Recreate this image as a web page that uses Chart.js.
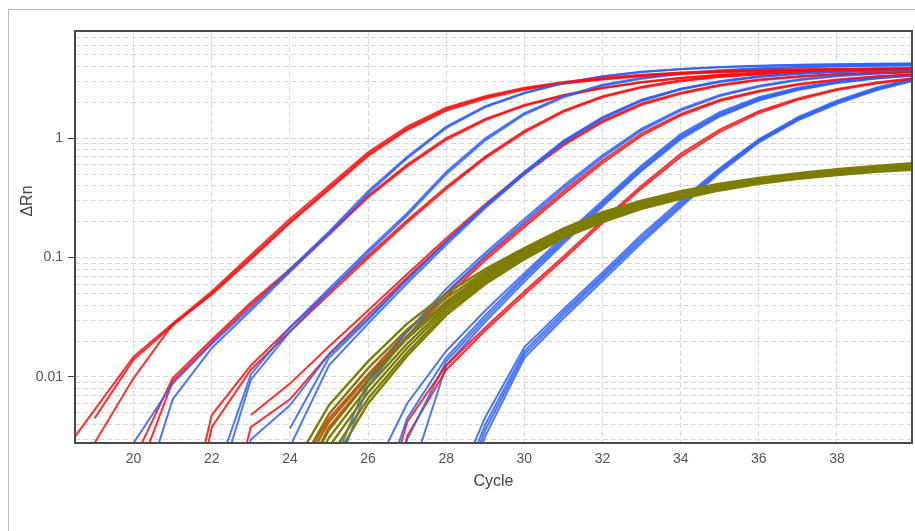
<!DOCTYPE html>
<html>
<head>
<meta charset="utf-8">
<script src="https://cdn.jsdelivr.net/npm/chart.js@4.4.1/dist/chart.umd.min.js"></script>
<style>
html,body{margin:0;padding:0;background:#fff;overflow:hidden}
.card{position:absolute;left:8px;top:9px;width:1000px;height:600px;border:1px solid #bdbdbd}
#wrap{position:absolute;left:0;top:0;width:915px;height:531px}
</style>
</head>
<body>
<div class="card"></div>
<div id="wrap"><canvas id="amp"></canvas></div>
<script>
// amplification plot - delta Rn vs cycle, log scale
const cycles = [18,19,20,21,22,23,24,25,26,27,28,29,30,31,32,33,34,35,36,37,38,39,40];
const xTicks = [20,22,24,26,28,30,32,34,36,38];
const yTicks = [0.003,0.004,0.005,0.006,0.007,0.008,0.009,0.01,0.02,0.03,0.04,0.05,0.06,0.07,0.08,0.09,0.1,0.2,0.3,0.4,0.5,0.6,0.7,0.8,0.9,1,2,3,4,5,6,7];
const yLabels = [0.01,0.1,1];

// red wells
const redA1 = [0.0019,0.0053,0.0148,0.028,0.052,0.105,0.21,0.40,0.76,1.25,1.8,2.25,2.65,2.95,3.2,3.4,3.55,3.65,3.72,3.78,3.82,3.85,3.87];
const redA2 = [null,0.0045,0.0140,0.027,0.050,0.100,0.20,0.38,0.73,1.2,1.75,2.2,2.6,2.9,3.15,3.35,3.5,3.6,3.68,3.74,3.78,3.81,3.83];
const redA3 = [0.0008,0.0028,0.0098,0.0275,0.049,0.097,0.195,0.37,0.71,1.17,1.7,2.15,2.55,2.85,3.1,3.3,3.45,3.56,3.64,3.7,3.75,3.78,3.8];
const redB1 = [null,0.0004,0.002,0.0098,0.0205,0.042,0.08,0.16,0.33,0.6,1.0,1.45,1.9,2.3,2.65,2.95,3.2,3.4,3.55,3.65,3.72,3.78,3.82];
const redB2 = [null,0.0003,0.00126,0.0092,0.0195,0.040,0.077,0.155,0.32,0.58,0.97,1.42,1.87,2.27,2.62,2.92,3.17,3.37,3.52,3.62,3.7,3.76,3.8];
const redC1 = [null,null,null,0.0002,0.0048,0.0125,0.026,0.052,0.104,0.205,0.39,0.7,1.15,1.7,2.25,2.7,3.05,3.3,3.47,3.58,3.66,3.71,3.75];
const redC2 = [null,null,null,0.0001,0.0038,0.0115,0.024,0.049,0.099,0.197,0.375,0.68,1.12,1.66,2.2,2.65,3.0,3.25,3.42,3.54,3.62,3.68,3.72];
const redD1 = [null,null,null,null,null,0.0048,0.0088,0.018,0.036,0.073,0.145,0.28,0.52,0.9,1.4,1.95,2.4,2.8,3.1,3.3,3.45,3.55,3.6];
const redD2 = [null,null,null,null,0.0002,0.0038,0.0065,0.0155,0.033,0.068,0.138,0.27,0.5,0.87,1.36,1.9,2.35,2.75,3.05,3.26,3.41,3.51,3.57];
const redE1 = [null,null,null,null,null,null,0.0013,0.0045,0.0105,0.024,0.05,0.1,0.19,0.36,0.65,1.1,1.6,2.1,2.5,2.85,3.1,3.3,3.45];
const redE2 = [null,null,null,null,null,null,0.0009,0.0038,0.0095,0.022,0.047,0.095,0.18,0.34,0.62,1.05,1.55,2.05,2.45,2.8,3.05,3.25,3.4];
const redF1 = [null,null,null,null,null,null,null,null,0.0003,0.0042,0.0125,0.026,0.052,0.102,0.205,0.4,0.74,1.18,1.68,2.15,2.58,2.92,3.2];
const redF2 = [null,null,null,null,null,null,null,null,0.0001,0.0032,0.0115,0.0245,0.049,0.097,0.195,0.38,0.7,1.13,1.62,2.1,2.53,2.87,3.15];

// blue wells
const blueB1 = [null,0.0003,0.0028,0.0088,0.019,0.038,0.08,0.165,0.36,0.7,1.25,1.85,2.4,2.9,3.3,3.6,3.8,3.95,4.05,4.12,4.17,4.2,4.22];
const blueB2 = [null,null,0.0006,0.0065,0.0175,0.036,0.076,0.158,0.345,0.68,1.22,1.82,2.38,2.88,3.28,3.58,3.78,3.93,4.03,4.1,4.15,4.18,4.2];
const blueC1 = [null,null,null,null,0.0012,0.0105,0.026,0.055,0.115,0.235,0.52,1.0,1.62,2.25,2.8,3.2,3.5,3.7,3.85,3.95,4.02,4.07,4.1];
const blueC2 = [null,null,null,null,0.0008,0.0095,0.024,0.052,0.11,0.225,0.5,0.96,1.58,2.2,2.75,3.15,3.45,3.66,3.81,3.92,3.99,4.04,4.07];
const blueD1 = [null,null,null,null,null,null,0.0037,0.0145,0.03,0.065,0.135,0.27,0.52,0.95,1.5,2.1,2.6,3.0,3.3,3.5,3.62,3.7,3.75];
const blueD2 = [null,null,null,null,null,0.0001,0.0026,0.0125,0.028,0.061,0.128,0.26,0.5,0.92,1.46,2.05,2.55,2.95,3.25,3.45,3.58,3.66,3.72];
const blueD3 = [null,null,null,null,0.0001,0.003,0.0058,0.0155,0.031,0.066,0.136,0.272,0.52,0.94,1.48,2.08,2.58,2.98,3.28,3.48,3.6,3.68,3.74];
const blueE1 = [null,null,null,null,null,null,null,0.0015,0.0095,0.024,0.055,0.11,0.21,0.4,0.72,1.2,1.75,2.3,2.75,3.1,3.35,3.5,3.6];
const blueE2 = [null,null,null,null,null,null,null,0.0011,0.0085,0.022,0.051,0.104,0.2,0.38,0.69,1.16,1.7,2.25,2.7,3.05,3.3,3.46,3.57];
const blueF1 = [null,null,null,null,null,null,null,null,0.0013,0.006,0.0165,0.036,0.074,0.15,0.3,0.59,1.08,1.65,2.2,2.65,3.0,3.25,3.42];
const blueF2 = [null,null,null,null,null,null,null,null,0.0005,0.0045,0.0145,0.033,0.07,0.143,0.288,0.57,1.04,1.6,2.15,2.6,2.96,3.21,3.39];
const blueF3 = [null,null,null,null,null,null,null,null,0.0002,0.003,0.0135,0.031,0.067,0.137,0.278,0.55,1.01,1.56,2.11,2.57,2.93,3.18,3.37];
const blueF4 = [null,null,null,null,null,null,null,null,null,0.0012,0.0125,0.029,0.063,0.131,0.268,0.535,0.98,1.52,2.07,2.53,2.9,3.16,3.35];
const blueG1 = [null,null,null,null,null,null,null,null,null,null,0.0008,0.0046,0.0178,0.037,0.075,0.155,0.3,0.56,0.98,1.5,2.06,2.65,3.2];
const blueG2 = [null,null,null,null,null,null,null,null,null,null,0.0006,0.0040,0.0165,0.035,0.071,0.147,0.288,0.545,0.96,1.47,2.02,2.6,3.15];
const blueG3 = [null,null,null,null,null,null,null,null,null,null,0.0005,0.0036,0.0155,0.033,0.068,0.14,0.276,0.53,0.94,1.44,1.98,2.56,3.1];
const blueG4 = [null,null,null,null,null,null,null,null,null,null,0.0004,0.0032,0.0145,0.031,0.064,0.133,0.264,0.515,0.92,1.41,1.94,2.52,3.05];

// olive wells (low plateau)
const oliveO1 = [null,null,null,null,null,null,0.0016,0.0058,0.0135,0.028,0.05,0.08,0.12,0.175,0.24,0.3,0.36,0.415,0.465,0.51,0.55,0.585,0.62];
const oliveO2 = [null,null,null,null,null,null,0.0013,0.0049,0.0118,0.025,0.046,0.076,0.116,0.17,0.232,0.292,0.352,0.407,0.457,0.502,0.542,0.577,0.61];
const oliveO3 = [null,null,null,null,null,null,0.0011,0.0042,0.0102,0.022,0.043,0.073,0.113,0.166,0.226,0.286,0.345,0.4,0.45,0.495,0.534,0.568,0.6];
const oliveO4 = [null,null,null,null,null,null,0.0009,0.0036,0.0092,0.021,0.041,0.07,0.11,0.162,0.22,0.28,0.338,0.393,0.443,0.488,0.526,0.56,0.59];
const oliveO5 = [null,null,null,null,null,null,0.0008,0.0031,0.0083,0.019,0.039,0.068,0.107,0.158,0.214,0.274,0.331,0.386,0.436,0.48,0.518,0.551,0.58];
const oliveO6 = [null,null,null,null,null,null,0.0006,0.0026,0.0074,0.0175,0.037,0.065,0.104,0.154,0.208,0.268,0.324,0.379,0.429,0.472,0.51,0.542,0.568];
const oliveO7 = [null,null,null,null,null,null,0.0005,0.0021,0.0066,0.016,0.035,0.062,0.1,0.15,0.203,0.262,0.317,0.372,0.422,0.464,0.5,0.532,0.557];
const oliveO8 = [null,null,null,null,null,null,0.0004,0.0017,0.006,0.015,0.033,0.06,0.097,0.146,0.198,0.256,0.31,0.365,0.415,0.456,0.492,0.522,0.545];

const redCurves = [redA1,redA2,redA3,redB1,redB2,redC1,redC2,redD1,redD2,redE1,redE2,redF1,redF2];
const blueCurves = [blueB1,blueB2,blueC1,blueC2,blueD1,blueD2,blueD3,blueE1,blueE2,blueF1,blueF2,blueF3,blueF4,blueG1,blueG2,blueG3,blueG4];
const oliveCurves = [oliveO1,oliveO2,oliveO3,oliveO4,oliveO5,oliveO6,oliveO7,oliveO8];

const RED = 'rgba(255,10,10,0.85)';
const BLUE = 'rgba(45,95,255,0.85)';
const OLIVE = '#7d7d00';
const FONT = '"Liberation Sans", Arial, sans-serif';

function toPoints(vals){
  return vals.map((v,i)=>({x:cycles[i], y:v}));
}
function line(vals, color, w){
  return {data:toPoints(vals), borderColor:color, borderWidth:w, pointRadius:0, tension:0, spanGaps:false, fill:false};
}

// first dataset is drawn on top, so olive goes first
const datasets = [];
oliveCurves.forEach(c=>datasets.push(line(c, OLIVE, 2.4)));
const n = Math.max(redCurves.length, blueCurves.length);
for(let i=0;i<n;i++){
  if(redCurves[i]) datasets.push(line(redCurves[i], RED, 2));
  if(blueCurves[i]) datasets.push(line(blueCurves[i], BLUE, 2));
}

const frame = {
  id:'frame',
  afterDatasetsDraw(chart){
    const {ctx, chartArea:a} = chart;
    ctx.save();
    ctx.strokeStyle = '#4a4a4a';
    ctx.lineWidth = 2;
    ctx.strokeRect(a.left, a.top, a.right-a.left, a.bottom-a.top);
    ctx.restore();
  },
  afterDraw(chart){
    const ctx = chart.ctx;
    ctx.save();
    ctx.translate(28, 201);
    ctx.rotate(-Math.PI/2);
    ctx.font = '16px ' + FONT;
    ctx.fillStyle = '#444';
    ctx.textAlign = 'center';
    ctx.textBaseline = 'middle';
    ctx.fillText('ΔRn', 0, 0);
    ctx.restore();
  }
};

new Chart(document.getElementById('amp'), {
  type:'line',
  data:{datasets},
  options:{
    responsive:true,
    maintainAspectRatio:false,
    animation:false,
    events:[],
    layout:{padding:{top:31, right:3, left:0, bottom:0}},
    plugins:{legend:{display:false}, tooltip:{enabled:false}},
    scales:{
      x:{
        type:'linear', min:18.5, max:39.92,
        afterBuildTicks: s => { s.ticks = xTicks.map(v=>({value:v})); },
        afterFit: s => { s.height = 88; },
        grid:{color:'#d6d6d6', drawTicks:false, borderDash:[5,3]},
        border:{display:false, dash:[5,3]},
        ticks:{color:'#555', font:{size:14, family:FONT}, padding:8, maxRotation:0, autoSkip:false},
        title:{display:true, text:'Cycle', color:'#444', font:{size:16, family:FONT}, padding:{top:0, bottom:40}}
      },
      y:{
        type:'logarithmic', min:0.0028, max:7.9,
        afterBuildTicks: s => { s.ticks = yTicks.map(v=>({value:v})); },
        afterFit: s => { s.width = 75; },
        grid:{
          color:'#d6d6d6', borderDash:[5,3], tickLength:7,
          tickColor: c => (c.tick && yLabels.includes(c.tick.value)) ? '#444' : 'rgba(0,0,0,0)'
        },
        border:{display:false, dash:[5,3]},
        ticks:{
          color:'#555', font:{size:14, family:FONT}, padding:5, autoSkip:false,
          callback: v => yLabels.includes(v) ? String(v) : ''
        }
      }
    }
  },
  plugins:[frame]
});
</script>
</body>
</html>
